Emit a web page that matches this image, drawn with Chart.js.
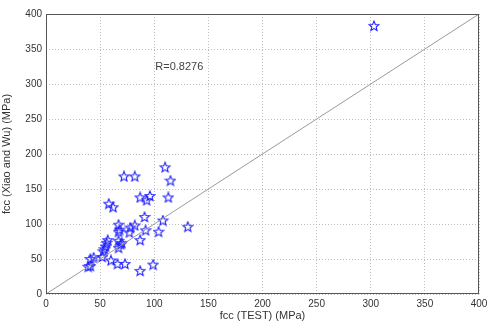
<!DOCTYPE html>
<html>
<head>
<meta charset="utf-8">
<script src="https://cdn.jsdelivr.net/npm/chart.js@4"></script>
<style>
body{margin:0;background:#fff;}
#wrap{width:487px;height:323px;}
</style>
</head>
<body>
<div id="wrap"><canvas id="scatterChart" width="487" height="323"></canvas></div>
<script>
// values (MPa)
const testValues = [303,110,72,82,115,87,96,93,113,58,62,67,91,108,82,78,92,67,131,104,77,87,57,56,67,69,55,54,53,67,70,44,41,60,39,41,66,73,99,87,68,52];
const modelValues = [383,181,168,168,162,138,140,134,138,129,124,99,110,105,98,95,91,89,96,89,88,77,77,73,76,71,68,64,61,66,73,52,50,48,39,40,43,43,42,33,92,53];
const lineEnds = [0,400];
const axisTicks = [0,50,100,150,200,250,300,350,400];
const rLabel = "R=0.8276";

// pentagram marker like matlab 'p'
function makeStar(){
  const c = document.createElement("canvas");
  c.width = 12; c.height = 12;
  const g = c.getContext("2d");
  g.strokeStyle = "#2020ff";
  g.lineWidth = 1.1;
  g.beginPath();
  for(let i=0;i<10;i++){
    const r = i%2===0 ? 5.2 : 2.3;
    const a = -Math.PI/2 + i*Math.PI/5;
    const px = 6 + r*Math.cos(a), py = 6.3 + r*Math.sin(a);
    if(i===0) g.moveTo(px,py); else g.lineTo(px,py);
  }
  g.closePath();
  g.stroke();
  return c;
}

const points = testValues.map((v,i)=>({x:v,y:modelValues[i]}));

const frame = {
  id:"frame",
  afterDraw(chart){
    const a = chart.chartArea, g = chart.ctx;
    g.save();
    g.strokeStyle = "#555";
    g.lineWidth = 1;
    g.strokeRect(a.left+0.5, a.top+0.5, a.right-a.left-1, a.bottom-a.top-1);
    g.fillStyle = "#444";
    g.font = "11px 'Liberation Sans', Arial, sans-serif";
    g.textBaseline = "middle";
    g.fillText(rLabel, chart.scales.x.getPixelForValue(101), chart.scales.y.getPixelForValue(324));
    g.restore();
  }
};

const gridOpts = {
  color:"#bdbdbd",
  lineWidth:1,
  drawTicks:false
};

new Chart(document.getElementById("scatterChart"), {
  type:"scatter",
  data:{
    datasets:[
      {
        type:"line",
        data:lineEnds.map(v=>({x:v,y:v})),
        borderColor:"#9a9a9a",
        borderWidth:1,
        pointRadius:0,
        fill:false
      },
      {
        data:points,
        pointStyle:makeStar(),
        pointRadius:5
      }
    ]
  },
  options:{
    responsive:false,
    animation:false,
    plugins:{legend:{display:false},tooltip:{enabled:false}},
    layout:{padding:{top:14,right:8,left:0,bottom:0}},
    scales:{
      x:{
        type:"linear",
        min:0,max:400,
        afterBuildTicks(s){ s.ticks = axisTicks.map(v=>({value:v})); },
        afterFit(s){ s.height = 29; s.paddingRight = 0; s.paddingLeft = 0; },
        grid:gridOpts,
        border:{display:false,dash:[1,2]},
        ticks:{color:"#333",font:{size:10,family:"'Liberation Sans', Arial"},padding:4,maxRotation:0},
        title:{display:true,text:"fcc (TEST) (MPa)",color:"#333",font:{size:11,family:"'Liberation Sans', Arial"},padding:{top:0,bottom:0}}
      },
      y:{
        type:"linear",
        min:0,max:400,
        afterBuildTicks(s){ s.ticks = axisTicks.map(v=>({value:v})); },
        afterFit(s){ s.width = 46; s.paddingTop = 0; s.paddingBottom = 0; },
        grid:gridOpts,
        border:{display:false,dash:[1,2]},
        ticks:{color:"#333",font:{size:10,family:"'Liberation Sans', Arial"},padding:4},
        title:{display:true,text:"fcc (Xiao and Wu) (MPa)",color:"#333",font:{size:11,family:"'Liberation Sans', Arial"},padding:{top:0,bottom:0}}
      }
    }
  },
  plugins:[frame]
});
</script>
</body>
</html>
